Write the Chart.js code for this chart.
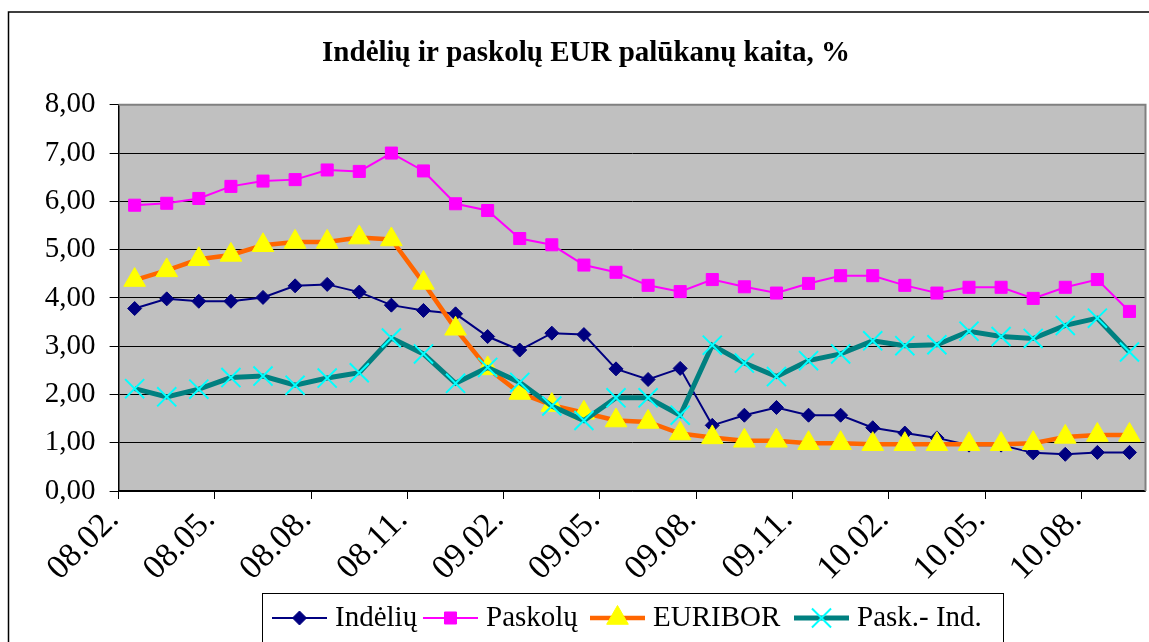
<!DOCTYPE html>
<html>
<head>
<meta charset="utf-8">
<script src="https://cdn.jsdelivr.net/npm/chart.js@4/dist/chart.umd.min.js"></script>
<style>
  html, body { margin: 0; padding: 0; background: #fff; overflow: hidden; }
  #frame { width: 1149px; height: 642px; overflow: hidden; }
  /* a bit wider than the window: chart.js keeps ~12px spare on the right of the plot */
  #wrap { width: 1161px; height: 642px; position: relative; }
</style>
</head>
<body>
<div id="frame"><div id="wrap"><canvas id="rates"></canvas></div></div>
<script>
const months = ['08.02.', '08.03.', '08.04.', '08.05.', '08.06.', '08.07.', '08.08.', '08.09.', '08.10.', '08.11.', '08.12.',
  '09.01.', '09.02.', '09.03.', '09.04.', '09.05.', '09.06.', '09.07.', '09.08.', '09.09.', '09.10.', '09.11.', '09.12.',
  '10.01.', '10.02.', '10.03.', '10.04.', '10.05.', '10.06.', '10.07.', '10.08.', '10.09.'];
const indeliu = [3.78, 3.98, 3.93, 3.93, 4.01, 4.25, 4.28, 4.12, 3.85, 3.74, 3.67, 3.20, 2.92, 3.27, 3.24, 2.53,
  2.31, 2.54, 1.36, 1.57, 1.73, 1.57, 1.57, 1.31, 1.20, 1.10, 0.95, 0.95, 0.79, 0.76, 0.80, 0.80];
const paskolu = [5.92, 5.96, 6.06, 6.31, 6.42, 6.45, 6.65, 6.62, 7.00, 6.63, 5.95, 5.81, 5.23, 5.10, 4.68, 4.53,
  4.26, 4.13, 4.38, 4.23, 4.10, 4.30, 4.46, 4.46, 4.26, 4.10, 4.22, 4.22, 3.99, 4.22, 4.38, 3.72];
const euribor = [4.37, 4.57, 4.80, 4.89, 5.09, 5.16, 5.16, 5.25, 5.21, 4.31, 3.36, 2.54, 2.03, 1.78, 1.62, 1.46,
  1.43, 1.19, 1.11, 1.04, 1.04, 0.99, 0.99, 0.97, 0.97, 0.97, 0.97, 0.97, 0.99, 1.12, 1.16, 1.16];
const paskInd = [2.12, 1.95, 2.11, 2.35, 2.38, 2.19, 2.34, 2.45, 3.17, 2.84, 2.23, 2.56, 2.25, 1.76, 1.46, 1.93,
  1.93, 1.57, 3.02, 2.65, 2.37, 2.70, 2.84, 3.11, 3.01, 3.03, 3.31, 3.20, 3.16, 3.43, 3.58, 2.88];
const yTickLabels = ['0,00', '1,00', '2,00', '3,00', '4,00', '5,00', '6,00', '7,00', '8,00'];

const serif = "'Liberation Serif', 'Times New Roman', serif";

// grey plot area + frame like the old Excel chart
const plotBackground = {
  id: 'plotBackground',
  beforeDraw(chart) {
    const { ctx, chartArea: a } = chart;
    ctx.save();
    ctx.fillStyle = '#c0c0c0';
    ctx.fillRect(a.left, a.top, a.right - a.left, a.bottom - a.top);
    ctx.strokeStyle = '#000';
    ctx.lineWidth = 1.5;
    ctx.beginPath();
    ctx.moveTo(8.5, 660);
    ctx.lineTo(8.5, 12);
    ctx.lineTo(1161, 12);
    ctx.stroke();
    ctx.restore();
  },
  afterDatasetsDraw(chart) {
    const { ctx, chartArea: a } = chart;
    ctx.save();
    ctx.strokeStyle = '#808080';
    ctx.lineWidth = 2;
    ctx.beginPath();
    ctx.moveTo(a.left, a.top);
    ctx.lineTo(a.right, a.top);
    ctx.lineTo(a.right, a.bottom);
    ctx.stroke();
    ctx.restore();
  }
};

// legend in a box with line + marker samples
const boxLegend = {
  id: 'boxLegend',
  afterDraw(chart) {
    const { ctx } = chart;
    const top = 593, midY = 618;
    const sampleX = [272, 423, 590, 794];
    ctx.save();
    ctx.font = '29px ' + serif;
    ctx.textBaseline = 'middle';
    chart.data.datasets.forEach((ds, i) => {
      const x = sampleX[i];
      ctx.strokeStyle = ds.borderColor;
      ctx.lineWidth = ds.borderWidth;
      ctx.beginPath();
      ctx.moveTo(x, midY);
      ctx.lineTo(x + 55, midY);
      ctx.stroke();
      ctx.fillStyle = ds.pointBackgroundColor;
      ctx.strokeStyle = ds.pointBorderColor;
      ctx.lineWidth = ds.pointBorderWidth;
      Chart.helpers.drawPoint(ctx, {
        pointStyle: ds.pointStyle, radius: ds.pointRadius, rotation: 0,
        borderWidth: ds.pointBorderWidth
      }, x + 27.5, midY);
      ctx.fillStyle = '#000';
      ctx.fillText(ds.label, x + 63, midY);
    });
    ctx.strokeStyle = '#000';
    ctx.lineWidth = 1;
    ctx.strokeRect(262.5, top + 0.5, 741, 60);
    ctx.restore();
  }
};

new Chart(document.getElementById('rates'), {
  type: 'line',
  data: {
    labels: months,
    datasets: [{
      label: 'Indėlių',
      data: indeliu,
      borderColor: '#000080',
      borderWidth: 2,
      pointStyle: 'rectRot',
      pointRadius: 7,
      pointBackgroundColor: '#000080',
      pointBorderColor: '#000080',
      pointBorderWidth: 1,
      order: 4
    }, {
      label: 'Paskolų',
      data: paskolu,
      borderColor: '#ff00ff',
      borderWidth: 2,
      pointStyle: 'rect',
      pointRadius: 8.5,
      pointBackgroundColor: '#ff00ff',
      pointBorderColor: '#ff00ff',
      pointBorderWidth: 1,
      order: 3
    }, {
      label: 'EURIBOR',
      data: euribor,
      borderColor: '#ff6600',
      borderWidth: 4.5,
      pointStyle: 'triangle',
      pointRadius: 12.5,
      pointBackgroundColor: '#ffff00',
      pointBorderColor: '#ffff00',
      pointBorderWidth: 1,
      order: 2
    }, {
      label: 'Pask.- Ind.',
      data: paskInd,
      borderColor: '#008080',
      borderWidth: 5,
      pointStyle: 'crossRot',
      pointRadius: 13.5,
      pointBackgroundColor: '#00ffff',
      pointBorderColor: '#00ffff',
      pointBorderWidth: 2,
      order: 1
    }]
  },
  options: {
    responsive: true,
    maintainAspectRatio: false,
    animation: false,
    tension: 0,
    layout: { padding: { left: 24, right: 13, top: 0, bottom: 0 } },
    plugins: {
      legend: { display: false },
      tooltip: { enabled: false },
      title: {
        display: true,
        text: 'Indėlių ir paskolų EUR palūkanų kaita, %',
        color: '#000',
        font: { family: serif, size: 29, weight: 'bold' },
        padding: { top: 36, bottom: 34 }
      }
    },
    scales: {
      x: {
        offset: true,
        grid: {
          offset: true,
          drawOnChartArea: false,
          tickLength: 8,
          tickColor: c => (c.index % 3 === 0 ? '#000' : 'rgba(0,0,0,0)'),
          color: 'rgba(0,0,0,0)'
        },
        border: { color: '#000', width: 1.5 },
        ticks: {
          autoSkip: false,
          maxRotation: 45,
          minRotation: 45,
          labelOffset: -21,
          padding: 1,
          color: '#000',
          font: { family: serif, size: 34 },
          callback: (v, i) => (i % 3 === 0 ? months[i] : '')
        },
        afterFit: s => {
          s.height = 151;
          s.paddingLeft = 0;
          s.paddingRight = 0;
        }
      },
      y: {
        min: 0,
        max: 8,
        grid: { color: '#000', lineWidth: 1, tickLength: 9, tickColor: '#000' },
        border: { color: '#000', width: 1.5 },
        ticks: {
          stepSize: 1,
          padding: 14,
          color: '#000',
          font: { family: serif, size: 29 },
          callback: (v, i) => yTickLabels[i]
        },
        afterFit: s => { s.width = 94.6; }
      }
    }
  },
  plugins: [plotBackground, boxLegend]
});
</script>
</body>
</html>
